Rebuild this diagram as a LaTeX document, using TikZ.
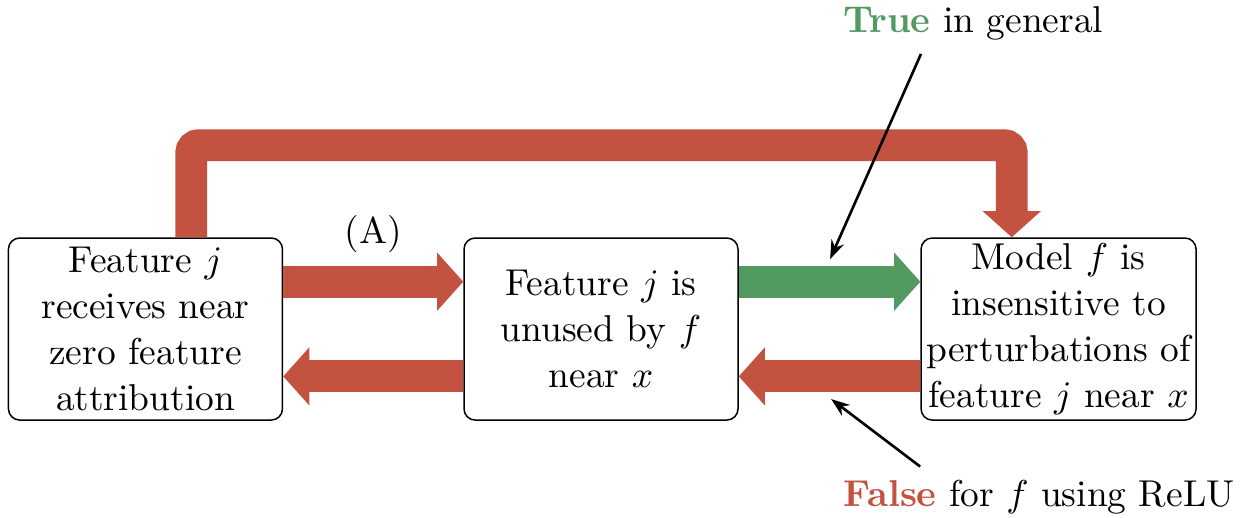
\documentclass[tikz,border=0pt]{standalone}
\usetikzlibrary{arrows.meta}

\definecolor{falsered}{RGB}{196,82,64}
\definecolor{truegreen}{RGB}{82,154,96}

\begin{document}
\begin{tikzpicture}[
	claim/.style={draw, rounded corners=3pt, align=center, font=\fontsize{10}{12.3}\selectfont, inner sep=0.5mm, minimum width=2.575cm, minimum height=1.711cm},
	fat/.style={line width=8.5pt, -{Triangle[length=7pt,width=15.2pt]}},
	pointer/.style={line width=0.7pt, -{Stealth[length=5pt,width=3.6pt]}}]
	\useasboundingbox (0,0) rectangle (11.70,4.859);
	\node[claim] (feat) at (1.367,1.767) {Feature $j$\\ receives near\\ zero feature\\ attribution};
	\node[claim] (unused) at (5.648,1.767) {Feature $j$ is\\ unused by $f$\\ near $x$};
	\node[claim] (model) at (9.948,1.767) {Model $f$ is\\ insensitive to\\ perturbations of\\ feature $j$ near $x$};
	\draw[fat, falsered] ([yshift=0.445cm]feat.east) -- node[above, text=black] (A) {(A)} ([yshift=0.445cm]unused.west);
	\draw[fat, falsered] ([yshift=-0.445cm]unused.west) -- ([yshift=-0.445cm]feat.east);
	\draw[fat, truegreen] ([yshift=0.445cm]unused.east) -- ([yshift=0.445cm]model.west);
	\draw[fat, falsered] ([yshift=-0.445cm]model.west) -- ([yshift=-0.445cm]unused.east);
	\draw[fat, falsered, rounded corners=2pt] ([xshift=0.43cm]feat.north) -- ++(0,0.865) -| ([xshift=-0.44cm]model.north);
	\node[anchor=base] (truelbl) at (9.145,4.549) {\textbf{\color{truegreen}True} in general};
	\node[anchor=base] (falselbl) at (9.765,0.103) {\textbf{\color{falsered}False} for $f$ using ReLU};
	\coordinate (truetip) at (7.801,2.425);
	\coordinate (falsetip) at (7.810,1.109);
	\draw[pointer] ([xshift=-0.49cm]truelbl.south) -- (truetip);
	\draw[pointer] ([xshift=-1.118cm]falselbl.north) -- (falsetip);
\end{tikzpicture}
\end{document}
